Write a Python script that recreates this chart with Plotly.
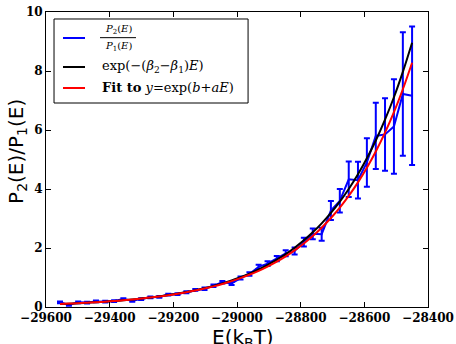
import plotly.graph_objects as go

# ---- data ----
energy = [-29556, -29528, -29499, -29471, -29443, -29414, -29386, -29357, -29329, -29301,
          -29272, -29244, -29216, -29187, -29159, -29131, -29102, -29074, -29046, -29017,
          -28989, -28961, -28932, -28904, -28875, -28847, -28819, -28790, -28762, -28734,
          -28705, -28677, -28649, -28620, -28592, -28564, -28535, -28507, -28479, -28450]

ratio = [0.16, 0.07, 0.16, 0.15, 0.19, 0.18, 0.20, 0.27, 0.21, 0.27,
         0.33, 0.34, 0.42, 0.44, 0.50, 0.58, 0.62, 0.72, 0.84, 0.80,
         0.98, 1.12, 1.36, 1.47, 1.64, 1.82, 1.90, 2.20, 2.48, 2.47,
         3.27, 3.60, 4.33, 4.30, 4.90, 5.80, 5.85, 6.12, 7.22, 7.16]

ratio_err = [0.03, 0.03, 0.03, 0.03, 0.03, 0.03, 0.03, 0.03, 0.03, 0.03,
             0.03, 0.03, 0.03, 0.03, 0.03, 0.03, 0.04, 0.04, 0.04, 0.05,
             0.05, 0.06, 0.07, 0.08, 0.09, 0.10, 0.12, 0.15, 0.18, 0.22,
             0.32, 0.40, 0.60, 0.62, 0.82, 1.12, 1.23, 1.60, 2.09, 2.35]

theory = [0.102, 0.114, 0.128, 0.143, 0.160, 0.181, 0.202, 0.228, 0.255, 0.285,
          0.321, 0.359, 0.403, 0.453, 0.507, 0.568, 0.639, 0.716, 0.802, 0.902,
          1.010, 1.131, 1.272, 1.425, 1.603, 1.795, 2.011, 2.261, 2.532, 2.837,
          3.190, 3.574, 4.002, 4.499, 5.042, 5.645, 6.352, 7.111, 7.971, 8.960]

fit = [0.104, 0.116, 0.130, 0.145, 0.162, 0.182, 0.203, 0.228, 0.255, 0.285,
       0.319, 0.357, 0.399, 0.447, 0.499, 0.558, 0.626, 0.700, 0.782, 0.877,
       0.980, 1.094, 1.227, 1.371, 1.538, 1.719, 1.921, 2.155, 2.406, 2.689,
       3.016, 3.370, 3.766, 4.224, 4.720, 5.274, 5.912, 6.605, 7.381, 8.280]

x_tick_vals = [-29600, -29400, -29200, -29000, -28800, -28600, -28400]
x_tick_text = ["\u221229600", "\u221229400", "\u221229200", "\u221229000",
               "\u221228800", "\u221228600", "\u221228400"]
y_tick_vals = [0, 2, 4, 6, 8, 10]
y_tick_text = ["0", "2", "4", "6", "8", "10"]

x_title = "E(k<sub>B</sub>T)"
y_title = "P<sub>2</sub>(E)/P<sub>1</sub>(E)"
legend_labels = ["exp(\u2212(<i>\u03b2</i><sub>2</sub>\u2212<i>\u03b2</i><sub>1</sub>)<i>E</i>)",
                 "<b>Fit to</b> <i>y</i>=exp(<i>b</i>+<i>aE</i>)"]

fig = go.Figure()
fig.add_trace(go.Scatter(
    x=energy, y=ratio, mode="lines",
    line=dict(color="#0000ff", width=2),
    error_y=dict(type="data", array=ratio_err, color="#0000ff", thickness=2, width=3),
    showlegend=False))
fig.add_trace(go.Scatter(x=energy, y=theory, mode="lines",
                         line=dict(color="black", width=2, shape="spline"), showlegend=False))
fig.add_trace(go.Scatter(x=energy, y=fit, mode="lines",
                         line=dict(color="#ff0000", width=2, shape="spline"), showlegend=False))

serif = "DejaVu Serif"
axis_common = dict(showline=True, linecolor="black", linewidth=1, mirror="ticks",
                   ticks="inside", ticklen=5, tickcolor="black", showgrid=False,
                   zeroline=False, automargin=False,
                   tickfont=dict(family=serif, size=12, color="black", weight="bold"))

fig.update_layout(
    width=456, height=344,
    margin=dict(l=46, r=28, t=12, b=37),
    paper_bgcolor="white", plot_bgcolor="white",
    xaxis=dict(range=[-29600, -28400], tickvals=x_tick_vals, ticktext=x_tick_text, **axis_common),
    yaxis=dict(range=[0, 10], tickvals=y_tick_vals, ticktext=y_tick_text, **axis_common),
)

# axis titles as annotations for exact placement
fig.add_annotation(xref="paper", yref="paper", x=-0.076, y=0.529, text=y_title,
                   textangle=-90, showarrow=False, xanchor="center", yanchor="middle",
                   font=dict(family="DejaVu Sans", size=20, color="black"))
fig.add_annotation(xref="paper", yref="paper", x=0.517, y=-0.054, text=x_title,
                   showarrow=False, xanchor="center", yanchor="top",
                   font=dict(family="DejaVu Sans", size=20, color="black"))

# manual legend (plot-area paper coordinates)
shapes = [dict(type="rect", xref="paper", yref="paper", x0=0.021, x1=0.529, y0=0.6915, y1=0.9763,
               line=dict(color="black", width=1), fillcolor="white", layer="above")]
sample_colors = ["#0000ff", "black", "#ff0000"]
entry_y = [0.9119, 0.8136, 0.7424]
for c, yy in zip(sample_colors, entry_y):
    shapes.append(dict(type="line", xref="paper", yref="paper", x0=0.0445, x1=0.1021,
                       y0=yy, y1=yy, line=dict(color=c, width=2), layer="above"))
# fraction bar
shapes.append(dict(type="line", xref="paper", yref="paper", x0=0.1414, x1=0.2356,
                   y0=0.9130, y1=0.9130, line=dict(color="black", width=1), layer="above"))
fig.update_layout(shapes=shapes)

annos = [
    dict(text="<i>P</i><sub>2</sub>(<i>E</i>)", x=0.1885, y=0.9420),
    dict(text="<i>P</i><sub>1</sub>(<i>E</i>)", x=0.1885, y=0.8830),
]
for a in annos:
    fig.add_annotation(xref="paper", yref="paper", x=a["x"], y=a["y"], text=a["text"],
                       showarrow=False, xanchor="center", yanchor="middle",
                       font=dict(family=serif, size=10, color="black"))
for lab, yy in zip(legend_labels, entry_y[1:]):
    fig.add_annotation(xref="paper", yref="paper", x=0.1414, y=yy, text=lab,
                       showarrow=False, xanchor="left", yanchor="middle",
                       font=dict(family=serif, size=13, color="black"))

fig.write_html("out.html", config={"displayModeBar": False},
               post_script="document.body.style.margin='0';document.body.style.overflow='hidden';")
